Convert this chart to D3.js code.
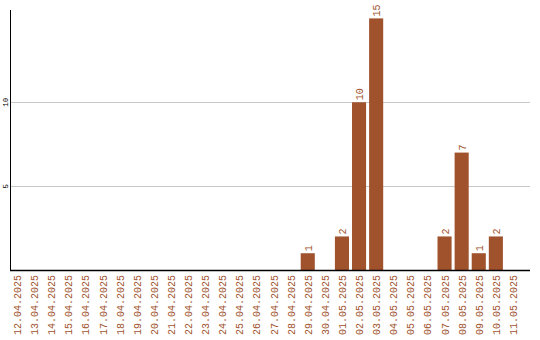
<!DOCTYPE html>
<html>
<head>
<meta charset="utf-8">
<script src="https://cdn.jsdelivr.net/npm/d3@7"></script>
<style>
  body { margin: 0; background: #fff; }
  svg { display: block; }
</style>
</head>
<body>
<svg id="chart"></svg>
<script>
// dates shown on the x axis
var dates = ['12.04.2025', '13.04.2025', '14.04.2025', '15.04.2025', '16.04.2025', '17.04.2025',
  '18.04.2025', '19.04.2025', '20.04.2025', '21.04.2025', '22.04.2025', '23.04.2025', '24.04.2025',
  '25.04.2025', '26.04.2025', '27.04.2025', '28.04.2025', '29.04.2025', '30.04.2025', '01.05.2025',
  '02.05.2025', '03.05.2025', '04.05.2025', '05.05.2025', '06.05.2025', '07.05.2025', '08.05.2025',
  '09.05.2025', '10.05.2025', '11.05.2025']

var counts = [0, 0, 0, 0, 0, 0, 0, 0, 0, 0, 0, 0, 0, 0, 0, 0, 0, 1, 0, 2, 10, 15, 0, 0, 0, 2, 7, 1, 2, 0]

var yTicks = [5, 10]

var width = 540
var height = 340
var mLeft = 10
var mRight = 530
var mTop = 10
var mBottom = 270

var brown = '#a0522d'
var font = 'Liberation Mono, DejaVu Sans Mono, monospace'

var svg = d3.select('#chart')
    .attr('width', width)
    .attr('height', height)

var x = d3.scaleBand()
    .domain(dates)
    .range([mLeft, mLeft + 17 * dates.length])
    .paddingInner(3 / 17)
    .paddingOuter(0)
    .align(0)

var y = d3.scaleLinear()
    .domain([0, 15.5])
    .range([mBottom, mTop])

// gridlines
svg.append('g')
    .selectAll('line')
    .data(yTicks)
    .enter().append('line')
    .attr('x1', mLeft)
    .attr('x2', mRight)
    .attr('y1', d => Math.round(y(d)) + 0.5)
    .attr('y2', d => Math.round(y(d)) + 0.5)
    .attr('stroke', '#c8c8c8')

svg.append('g')
    .selectAll('text')
    .data(yTicks)
    .enter().append('text')
    .attr('transform', d => `translate(8,${y(d)}) rotate(-90)`)
    .attr('text-anchor', 'middle')
    .attr('font-family', font)
    .attr('font-size', '7.5px')
    .attr('fill', '#000')
    .text(d => d)

// bars
var bars = dates.map((d, i) => ({ date: d, value: counts[i] })).filter(d => d.value > 0)

svg.append('g')
    .selectAll('rect')
    .data(bars)
    .enter().append('rect')
    .attr('x', d => x(d.date))
    .attr('y', d => y(d.value))
    .attr('width', x.bandwidth())
    .attr('height', d => mBottom - y(d.value))
    .attr('fill', brown)

svg.append('g')
    .selectAll('text')
    .data(bars)
    .enter().append('text')
    .attr('transform', d => `translate(${x(d.date) + x.bandwidth() / 2 + 4},${y(d.value) - 2}) rotate(-90)`)
    .attr('font-family', font)
    .attr('font-size', '10px')
    .attr('fill', brown)
    .text(d => d.value)

// axes
svg.append('line')
    .attr('x1', mLeft + 0.5).attr('x2', mLeft + 0.5)
    .attr('y1', mTop).attr('y2', mBottom)
    .attr('stroke', '#000')

svg.append('line')
    .attr('x1', mLeft).attr('x2', mRight)
    .attr('y1', mBottom + 0.5).attr('y2', mBottom + 0.5)
    .attr('stroke', '#000')
    .attr('stroke-width', 1.5)

svg.append('g')
    .selectAll('text')
    .data(dates)
    .enter().append('text')
    .attr('transform', d => `translate(${x(d) + x.bandwidth() / 2 + 4},${mBottom + 5}) rotate(-90)`)
    .attr('text-anchor', 'end')
    .attr('font-family', font)
    .attr('font-size', '10px')
    .attr('fill', brown)
    .text(d => d)
</script>
</body>
</html>
